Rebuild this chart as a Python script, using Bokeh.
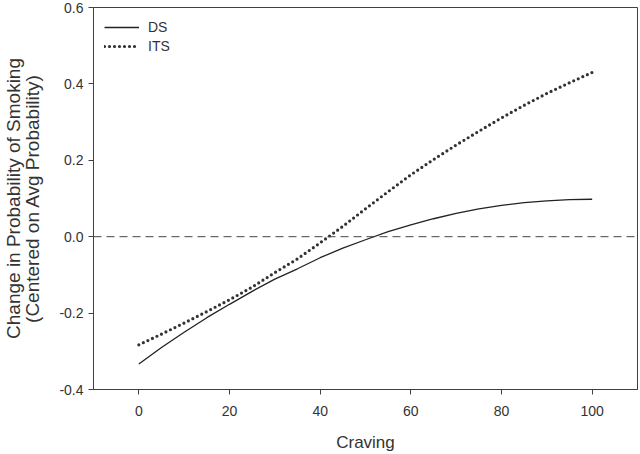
from bokeh.plotting import figure
from bokeh.models import Span, Legend, LegendItem, FixedTicker, NumeralTickFormatter, Range1d
from bokeh.embed import file_html
from bokeh.resources import INLINE

# data
craving = [0, 5, 10, 15, 20, 25, 30, 35, 40, 45, 50, 55, 60, 65, 70, 75, 80, 85, 90, 95, 100]
ds = [-0.333, -0.290, -0.250, -0.212, -0.177, -0.143, -0.111, -0.084, -0.055, -0.030, -0.008,
      0.013, 0.031, 0.047, 0.061, 0.073, 0.082, 0.089, 0.094, 0.097, 0.098]
its = [-0.283, -0.255, -0.226, -0.196, -0.165, -0.132, -0.094, -0.058, -0.016, 0.027, 0.073,
       0.118, 0.162, 0.202, 0.240, 0.276, 0.311, 0.344, 0.375, 0.403, 0.430]
x_ticks = [0, 20, 40, 60, 80, 100]
y_ticks = [-0.4, -0.2, 0.0, 0.2, 0.4, 0.6]

FONT = "Liberation Sans"
TXT = "#333333"
AX = "#404040"

p = figure(width=640, height=454, output_backend="svg", toolbar_location=None,
           x_range=Range1d(-10, 110), y_range=Range1d(-0.4, 0.6),
           min_border_left=93, min_border_right=3, min_border_top=7, min_border_bottom=65)
p.grid.visible = False
p.outline_line_color = AX
p.outline_line_width = 1
p.background_fill_color = "white"
p.border_fill_color = "white"

for ax in (p.xaxis[0], p.yaxis[0]):
    ax.axis_line_color = AX
    ax.major_tick_line_color = AX
    ax.major_tick_out = 5
    ax.major_tick_in = 0
    ax.minor_tick_line_color = None
    ax.major_label_text_font = FONT
    ax.major_label_text_font_size = "14px"
    ax.major_label_text_color = TXT
    ax.axis_label_text_font = FONT
    ax.axis_label_text_font_style = "normal"
    ax.axis_label_text_color = TXT

p.xaxis.ticker = FixedTicker(ticks=x_ticks)
p.yaxis.ticker = FixedTicker(ticks=y_ticks)
p.yaxis.formatter = NumeralTickFormatter(format="0.0")

p.xaxis.axis_label = "Craving"
p.xaxis.axis_label_text_font_size = "17px"
p.xaxis.major_label_standoff = 11
p.xaxis.axis_label_standoff = 14

p.yaxis.axis_label = "Change in Probability of Smoking\n(Centered on Avg Probability)"
p.yaxis.axis_label_text_font_size = "19px"
p.yaxis.axis_label_text_line_height = 0.92
p.yaxis.major_label_standoff = 5
p.yaxis.axis_label_standoff = 13

zero = Span(location=0, dimension="width", line_color="#444444", line_width=1, line_dash="8 5")
p.add_layout(zero)

r_ds = p.line(craving, ds, line_color="#222222", line_width=1.3)
r_its = p.line(craving, its, line_color="#333333", line_width=3.2, line_dash="0 5",
               line_cap="round")

legend = Legend(items=[LegendItem(label="DS", renderers=[r_ds]),
                       LegendItem(label="ITS", renderers=[r_its])],
                location=(11, 335), margin=0, padding=4, spacing=3,
                glyph_width=35, glyph_height=16, label_height=16, label_standoff=9,
                label_text_font=FONT, label_text_font_size="14px", label_text_color=TXT,
                border_line_color=None, background_fill_alpha=0)
p.add_layout(legend)

open("out.html", "w").write(file_html(p, INLINE))
